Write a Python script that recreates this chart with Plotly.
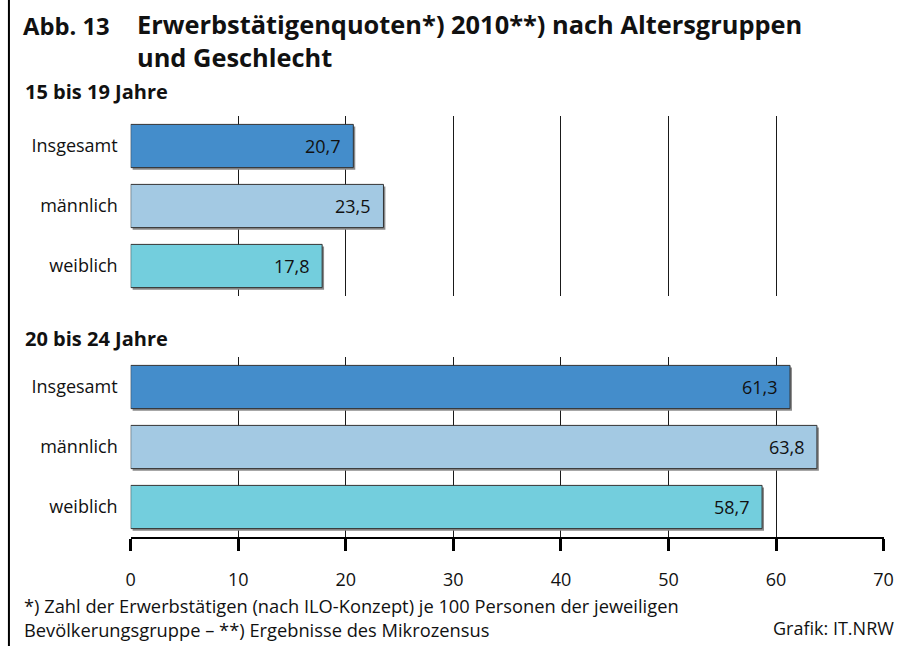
import plotly.graph_objects as go

categories = ["Insgesamt", "männlich", "weiblich"]
group_labels = ["15 bis 19 Jahre", "20 bis 24 Jahre"]
values_15_19 = [20.7, 23.5, 17.8]
values_20_24 = [61.3, 63.8, 58.7]
bar_colors = ["#448dcb", "#a3c9e3", "#73cedd"]
x_ticks = [0, 10, 20, 30, 40, 50, 60, 70]
title_prefix = "Abb. 13"
title_lines = ["Erwerbstätigenquoten*) 2010**) nach Altersgruppen", "und Geschlecht"]
footnote_lines = ["*) Zahl der Erwerbstätigen (nach ILO-Konzept) je 100 Personen der jeweiligen",
                  "Bevölkerungsgruppe – **) Ergebnisse des Mikrozensus"]
source = "Grafik: IT.NRW"

W, H = 906, 646
FONT = "Open Sans"
px = lambda v: v / W
py = lambda v: 1 - v / H

fig = go.Figure()
BW = 0.72
for vals, xa, ya in [(values_15_19, "x", "y"), (values_20_24, "x2", "y2")]:
    # soft drop shadow
    fig.add_trace(go.Bar(
        y=categories, x=vals, base=0.18, orientation="h", width=BW,
        offset=-BW / 2 + 0.035,
        marker=dict(color="#8a8a8a", line=dict(width=0)),
        xaxis=xa, yaxis=ya, hoverinfo="skip", showlegend=False))
    fig.add_trace(go.Bar(
        y=categories, x=vals, orientation="h", width=BW, offset=-BW / 2,
        marker=dict(color=bar_colors, line=dict(color="#333333", width=1)),
        xaxis=xa, yaxis=ya, showlegend=False))

annotations = []
for vals, xa, ya in [(values_15_19, "x", "y"), (values_20_24, "x2", "y2")]:
    for c, v in zip(categories, vals):
        annotations.append(dict(
            x=v, y=c, xref=xa, yref=ya, text=f"{v:.1f}".replace(".", ","),
            showarrow=False, xanchor="right", xshift=-10, yanchor="middle",
            font=dict(family=FONT, size=18, color="#111111")))


def label(x, y, text, size, anchor="left", bold=False):
    return dict(x=px(x), y=py(y), xref="paper", yref="paper",
                text=f"<b>{text}</b>" if bold else text,
                showarrow=False, xanchor=anchor, yanchor="middle", align=anchor,
                font=dict(family=FONT, size=size, color="#111111"))


annotations += [
    label(16, 26, title_prefix, 23.8, bold=True),
    label(132, 41, "<br>".join(title_lines), 25.4, bold=True),
    label(18, 92, group_labels[0], 20, bold=True),
    label(18, 338, group_labels[1], 20, bold=True),
    label(17, 617, "<br>".join(footnote_lines), 18.3),
    label(906, 628, source, 18, anchor="right"),
]

xcommon = dict(domain=[px(127.8), px(893.4)], range=[0, 70], tickvals=x_ticks,
               showgrid=True, gridcolor="#1a1a1a", gridwidth=1, zeroline=False,
               fixedrange=True)
ycommon = dict(type="category", categoryorder="array", categoryarray=categories,
               range=[2.5, -0.5], showgrid=False, zeroline=False, showline=False,
               ticks="", ticklabelstandoff=12, fixedrange=True,
               tickfont=dict(family=FONT, size=18, color="#111111"))

fig.update_layout(
    width=W, height=H, margin=dict(l=0, r=0, t=0, b=0),
    paper_bgcolor="white", plot_bgcolor="white",
    barmode="overlay", separators=",.",
    font=dict(family=FONT, size=18, color="#111111"),
    xaxis=dict(**xcommon, anchor="y", showticklabels=False, ticks=""),
    xaxis2=dict(**xcommon, anchor="y2", showticklabels=True, showline=True,
                linecolor="#000000", linewidth=2, ticks="outside", ticklen=12,
                tickwidth=3, tickcolor="#000000", ticklabelstandoff=13,
                tickfont=dict(family=FONT, size=18, color="#111111")),
    yaxis=dict(**ycommon, domain=[py(296), py(116)], anchor="x"),
    yaxis2=dict(**ycommon, domain=[py(537), py(357)], anchor="x2"),
    annotations=annotations,
    shapes=[dict(type="line", xref="paper", yref="paper", x0=px(4), x1=px(4),
                 y0=0, y1=1, line=dict(color="#000000", width=2))],
)

fig.write_html("out.html",
               config={"displayModeBar": False, "responsive": False},
               post_script="document.body.style.margin='0';document.body.style.overflow='hidden';")
